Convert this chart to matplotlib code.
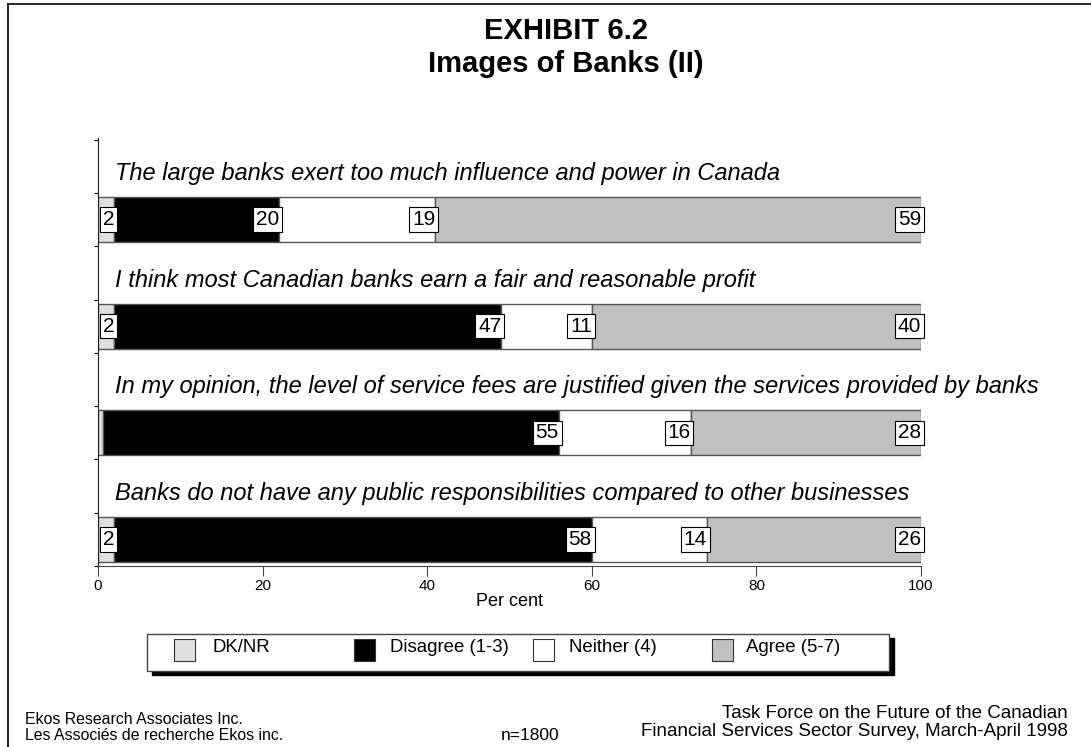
import matplotlib
matplotlib.use("Agg")
import matplotlib.pyplot as plt
from matplotlib.patches import Rectangle
import numpy as np

plt.rcParams['font.family'] = ['Liberation Sans', 'DejaVu Sans']

statements = [
    "The large banks exert too much influence and power in Canada",
    "I think most Canadian banks earn a fair and reasonable profit",
    "In my opinion, the level of service fees are justified given the services provided by banks",
    "Banks do not have any public responsibilities compared to other businesses",
]
series_names = ["DK/NR", "Disagree (1-3)", "Neither (4)", "Agree (5-7)"]
dk = [2, 2, 0.6, 2]
disagree = [20, 47, 55.4, 58]
neither = [19, 11, 16, 14]
agree = [59, 40, 28, 26]
labels = [["2", "20", "19", "59"],
          ["2", "47", "11", "40"],
          ["", "55", "16", "28"],
          ["2", "58", "14", "26"]]
colors = ["#e0e0e0", "#000000", "#ffffff", "#c0c0c0"]
xticks = [0, 20, 40, 60, 80, 100]

W, H = 1091, 747
fig = plt.figure(figsize=(W/100, H/100), dpi=100)

# frame (left & top)
fig.add_artist(plt.Line2D([8/W, 8/W], [0, 1-4/H], color="black", lw=1.2))
fig.add_artist(plt.Line2D([8/W, 1], [1-4/H, 1-4/H], color="black", lw=1.2))

ax = fig.add_axes([98/W, 1-566/H, (921-98)/W, (566-138)/H])
series = [dk, disagree, neither, agree]
y = np.arange(len(statements))
left = np.zeros(len(statements))
for s, vals in enumerate(series):
    vals = np.array(vals, dtype=float)
    ax.barh(y, vals, left=left, height=0.42, color=colors[s], edgecolor="#555555", linewidth=1.0)
    for i in range(len(statements)):
        lab = labels[i][s]
        if lab:
            ax.text(left[i] + vals[i], y[i], lab, ha="right", va="center", fontsize=15,
                    bbox=dict(boxstyle="square,pad=0.13", fc="white", ec="black", lw=0.8), zorder=5)
    left += vals

for i, st in enumerate(statements):
    ax.text(2.1, y[i] - 0.43, st, ha="left", va="center", fontsize=17, style="italic")

ax.set_xlim(0, 100)
ax.set_ylim(3.234, -0.766)
ax.set_xticks(xticks)
ax.set_xticklabels([str(t) for t in xticks], fontsize=11)
ax.set_yticks(np.arange(-0.75, 3.3, 0.5))
ax.set_yticklabels([])
ax.tick_params(axis="y", length=3, width=0.8, direction="out")
ax.tick_params(axis="x", length=7, width=0.8, color="#444444", pad=2)
for sp in ["top", "right"]:
    ax.spines[sp].set_visible(False)
ax.spines["left"].set_color("#222222")
ax.spines["bottom"].set_color("#444444")
ax.set_xlabel("Per cent", fontsize=13, labelpad=0)

# title
fig.text(566/W, 1-31/H, "EXHIBIT 6.2", ha="center", va="center", fontsize=21, weight="bold")
fig.text(566/W, 1-64/H, "Images of Banks (II)", ha="center", va="center", fontsize=21, weight="bold")

# legend box with shadow
lx0, lx1, ly0, ly1 = 147, 889, 634, 671
fig.add_artist(Rectangle(((lx0+5)/W, 1-(ly1+4)/H), (lx1-lx0)/W, (ly1-ly0)/H,
                         transform=fig.transFigure, fc="black", ec="black", lw=1))
fig.add_artist(Rectangle((lx0/W, 1-ly1/H), (lx1-lx0)/W, (ly1-ly0)/H,
                         transform=fig.transFigure, fc="white", ec="#444444", lw=1))
sq_x = [174, 354, 533, 712]
tx_x = [213, 390, 569, 746]
for k in range(4):
    fig.add_artist(Rectangle((sq_x[k]/W, 1-661/H), 21/W, 22/H, transform=fig.transFigure,
                             fc=colors[k], ec="#333333", lw=0.8))
    fig.text(tx_x[k]/W, 1-648/H, series_names[k], ha="left", va="center", fontsize=13.4)

# footer
fig.text(25/W, 1-719/H, "Ekos Research Associates Inc.", ha="left", va="center", fontsize=11.4)
fig.text(25/W, 1-736/H, "Les Associés de recherche Ekos inc.", ha="left", va="center", fontsize=11.4)
fig.text(530/W, 1-735/H, "n=1800", ha="center", va="center", fontsize=12.5)
fig.text(1068/W, 1-713/H, "Task Force on the Future of the Canadian", ha="right", va="center", fontsize=13.5)
fig.text(1068/W, 1-731/H, "Financial Services Sector Survey, March-April 1998", ha="right", va="center", fontsize=13.5)

fig.savefig("out.png", dpi=100)
